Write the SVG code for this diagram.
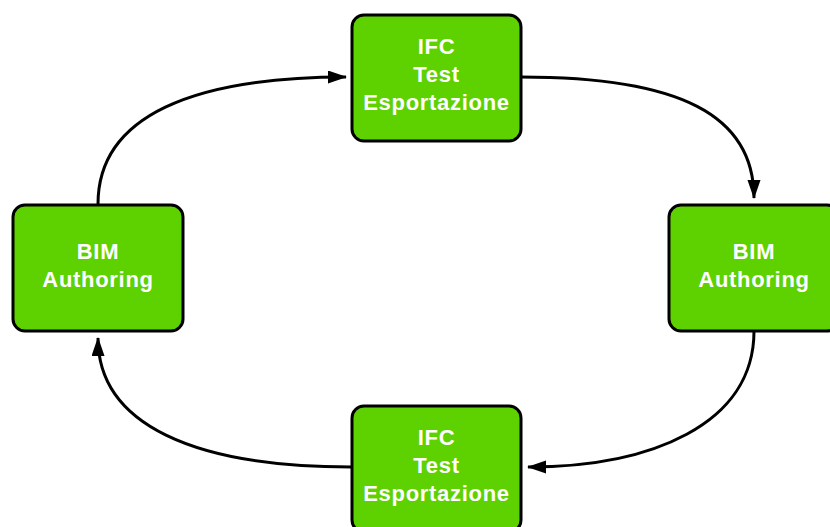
<svg xmlns="http://www.w3.org/2000/svg" width="830" height="527" viewBox="0 0 830 527">
<style>
.node rect{fill:#5ED100;stroke:#000;stroke-width:3}
.node text{fill:#fff;font-family:"Liberation Sans",Arial,sans-serif;font-weight:bold;font-size:22px;letter-spacing:0.7px;text-anchor:middle}
.edge{fill:none;stroke:#000;stroke-width:3}
</style>
<defs>
<marker id="arr" markerUnits="userSpaceOnUse" markerWidth="20" markerHeight="14" refX="18" refY="6.5" orient="auto">
<path d="M0,0 L19,6.5 L0,13 Z" fill="#000"/>
</marker>
</defs>
<rect width="830" height="527" fill="#fff"/>
<g id="connectors">
<path class="edge" d="M98,204 C98,115 195,77 346,77" marker-end="url(#arr)"/>
<path class="edge" d="M521,77 C680,77 754,115 754,198" marker-end="url(#arr)"/>
<path class="edge" d="M754,331 C754,425 650,467 528,467" marker-end="url(#arr)"/>
<path class="edge" d="M351,467 C195,467 98,425 98,338" marker-end="url(#arr)"/>
</g>
<g id="ifc-top" class="node">
<rect x="352" y="15" width="169" height="126" rx="12"/>
<text x="436.5" y="54">IFC</text>
<text x="436.5" y="82">Test</text>
<text x="436.5" y="110">Esportazione</text>
</g>
<g id="bim-left" class="node">
<rect x="13" y="205" width="170" height="126" rx="12"/>
<text x="98" y="259">BIM</text>
<text x="98" y="287">Authoring</text>
</g>
<g id="bim-right" class="node">
<rect x="669" y="205" width="170" height="126" rx="12"/>
<text x="754" y="259">BIM</text>
<text x="754" y="287">Authoring</text>
</g>
<g id="ifc-bottom" class="node">
<rect x="352" y="406" width="169" height="126" rx="12"/>
<text x="436.5" y="445">IFC</text>
<text x="436.5" y="473">Test</text>
<text x="436.5" y="501">Esportazione</text>
</g>
</svg>
